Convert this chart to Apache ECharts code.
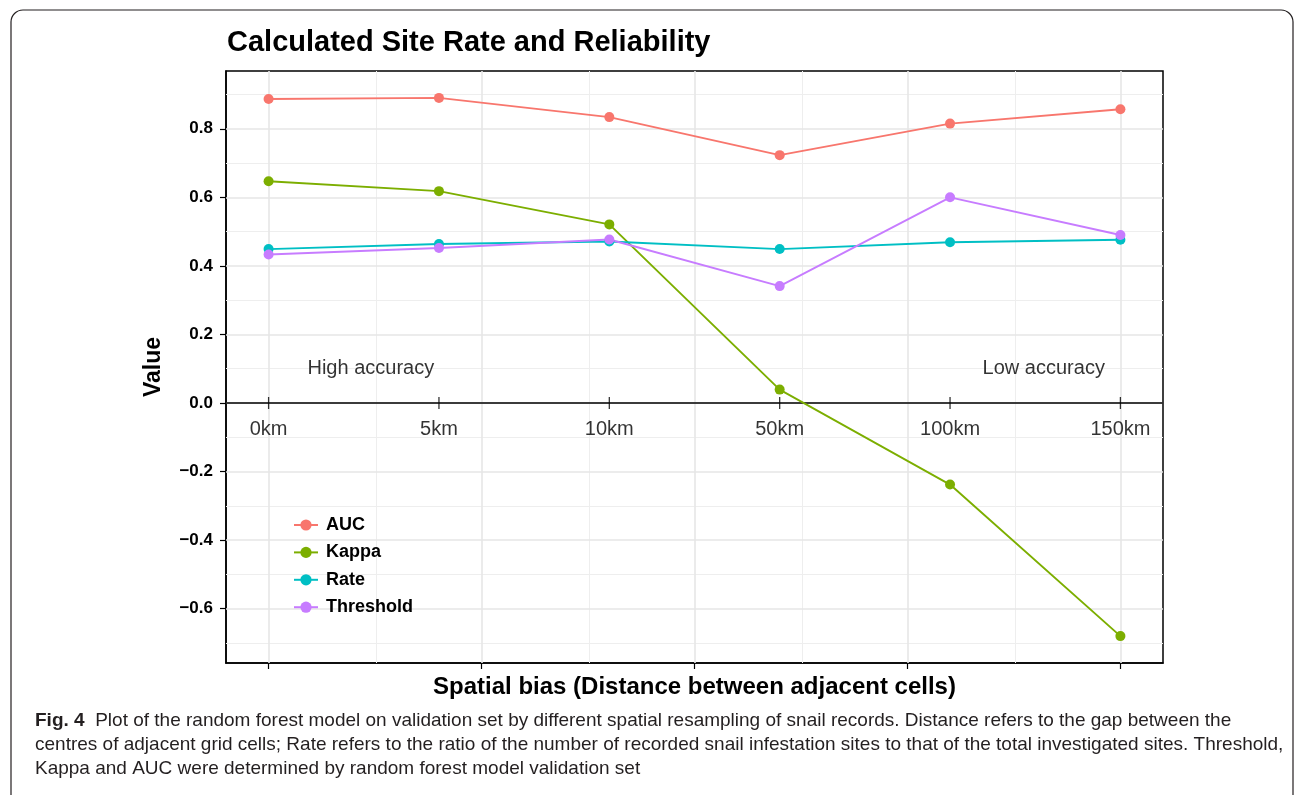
<!DOCTYPE html>
<html>
<head>
<meta charset="utf-8">
<script src="https://cdn.jsdelivr.net/npm/echarts@6/dist/echarts.min.js"></script>
<style>
html,body{margin:0;padding:0;background:#fff;}
#c{width:1295px;height:795px;}
</style>
</head>
<body>
<div id="c"></div>
<script>
// ---- data ----
const categories = ['0km', '5km', '10km', '50km', '100km', '150km'];
const xPositions = [0, 1, 2, 3, 4, 5];
const auc       = [0.887, 0.890, 0.834, 0.723, 0.815, 0.857];
const kappa     = [0.647, 0.618, 0.521, 0.039, -0.238, -0.680];
const rate      = [0.449, 0.464, 0.471, 0.449, 0.469, 0.476];
const threshold = [0.433, 0.452, 0.477, 0.341, 0.600, 0.490];
const yTicks = [-0.6, -0.4, -0.2, 0.0, 0.2, 0.4, 0.6, 0.8];
const yMinor = [-0.7, -0.5, -0.3, -0.1, 0.1, 0.3, 0.5, 0.7, 0.9];
const xMajor = [0, 1.25, 2.5, 3.75, 5];
const xMinor = [0.625, 1.875, 3.125, 4.375];
const annotations = [[0.6, 0.1, 'High accuracy'], [4.55, 0.1, 'Low accuracy']];
const seriesNames = ['AUC', 'Kappa', 'Rate', 'Threshold'];
const seriesColors = ['#F8766D', '#7CAE00', '#00BFC4', '#C77CFF'];
const seriesValues = [auc, kappa, rate, threshold];

const chart = echarts.init(document.getElementById('c'), null, {renderer: 'canvas'});

const X_MIN = -0.25, X_MAX = 5.25, Y_MIN = -0.7585, Y_MAX = 0.9685;
const MAJOR = {color: '#e6e6e6', width: 1.6, type: 'solid'};
const MINOR = {color: '#eeeeee', width: 1.0, type: 'solid'};

const gridLines = []
  .concat(xMinor.map(v => ({xAxis: v, lineStyle: MINOR})))
  .concat(yMinor.map(v => ({yAxis: v, lineStyle: MINOR})))
  .concat(xMajor.map(v => ({xAxis: v, lineStyle: MAJOR})))
  .concat(yTicks.map(v => ({yAxis: v, lineStyle: MAJOR})));

const fmtY = v => (v < 0 ? '\u2212' : '') + Math.abs(v).toFixed(1);

const dataSeries = seriesNames.map((name, i) => ({
  name: name,
  type: 'line',
  data: xPositions.map((x, j) => [x, seriesValues[i][j]]),
  symbol: 'circle',
  symbolSize: 10,
  showSymbol: true,
  itemStyle: {color: seriesColors[i]},
  lineStyle: {color: seriesColors[i], width: 1.9},
  z: 4,
  animation: false
}));

const captionText =
  '{b|Fig. 4}  Plot of the random forest model on validation set by different spatial resampling of snail records. Distance refers to the gap between the\n' +
  'centres of adjacent grid cells; Rate refers to the ratio of the number of recorded snail infestation sites to that of the total investigated sites. Threshold,\n' +
  'Kappa and AUC were determined by random forest model validation set';

const option = {
  animation: false,
  backgroundColor: '#ffffff',
  title: {
    text: 'Calculated Site Rate and Reliability',
    left: 222, top: 23,
    textStyle: {fontFamily: 'Liberation Sans', fontWeight: 'bold', fontSize: 29, color: '#000'}
  },
  grid: {
    left: 226, top: 71, right: 132, bottom: 132,
    show: true, borderColor: '#000', borderWidth: 1.5, backgroundColor: 'transparent'
  },
  legend: {
    data: seriesNames,
    orient: 'vertical',
    left: 288, top: 511,
    z: 6,
    itemWidth: 24, itemHeight: 14, itemGap: 9.4,
    textStyle: {fontFamily: 'Liberation Sans', fontWeight: 'bold', fontSize: 18, color: '#000', padding: [0, 0, 0, 3]}
  },
  xAxis: {
    type: 'value', min: X_MIN, max: X_MAX, position: 'bottom',
    axisLine: {show: true, onZero: false, lineStyle: {color: '#000', width: 1.5}},
    axisTick: {show: true, customValues: xMajor, length: 6, lineStyle: {color: '#000', width: 1.2}},
    axisLabel: {show: false},
    splitLine: {show: false},
    name: 'Spatial bias (Distance between adjacent cells)',
    nameLocation: 'middle', nameGap: 12,
    nameTextStyle: {fontFamily: 'Liberation Sans', fontWeight: 'bold', fontSize: 24, color: '#000', verticalAlign: 'top'}
  },
  yAxis: {
    type: 'value', min: Y_MIN, max: Y_MAX,
    axisLine: {show: true, onZero: false, lineStyle: {color: '#000', width: 1.5}},
    axisTick: {show: true, customValues: yTicks, length: 6, lineStyle: {color: '#000', width: 1.2}},
    axisLabel: {show: true, customValues: yTicks, formatter: fmtY, margin: 13,
      fontFamily: 'Liberation Sans', fontWeight: 'bold', fontSize: 17, color: '#000'},
    splitLine: {show: false},
    name: 'Value', nameLocation: 'middle', nameGap: 61,
    nameTextStyle: {fontFamily: 'Liberation Sans', fontWeight: 'bold', fontSize: 23, color: '#000'}
  },
  series: [
    {
      name: '_grid', type: 'line', data: [], z: 1,
      markLine: {silent: true, z: 1, symbol: ['none', 'none'], label: {show: false}, animation: false, data: gridLines}
    },
    {
      name: '_zero', type: 'scatter', z: 3, silent: true,
      data: xPositions.map((x, j) => [x, 0, categories[j]]),
      symbol: 'rect', symbolSize: [1.3, 12],
      itemStyle: {color: '#000'},
      label: {show: true, position: 'bottom', distance: 10, formatter: p => p.value[2],
        fontFamily: 'Liberation Sans', fontSize: 20, color: '#000', textBorderWidth: 0},
      markLine: {silent: true, z: 2, symbol: ['none', 'none'], label: {show: false}, animation: false,
        data: [{yAxis: 0, lineStyle: {color: '#000', width: 1.5, type: 'solid'}}]}
    },
    {
      name: '_annot', type: 'scatter', z: 3, silent: true,
      data: annotations, symbolSize: 0,
      itemStyle: {color: 'transparent'},
      label: {show: true, position: 'inside', formatter: p => p.value[2],
        fontFamily: 'Liberation Sans', fontSize: 20, color: '#000',
        textBorderWidth: 0, textBorderColor: 'transparent'}
    }
  ].concat(dataSeries),
  graphic: [
    {
      type: 'rect', silent: true, z: 10,
      shape: {x: 11, y: 10, width: 1282, height: 830, r: 12},
      style: {fill: 'none', stroke: '#231f20', lineWidth: 1.2}
    },
    {
      type: 'text', left: 35, top: 709, z: 10,
      style: {
        text: captionText,
        fontFamily: 'Liberation Sans', fontSize: 19, lineHeight: 24, fill: '#231f20',
        rich: {b: {fontFamily: 'Liberation Sans', fontWeight: 'bold', fontSize: 19, lineHeight: 24, fill: '#231f20'}}
      }
    }
  ]
};
chart.setOption(option);
</script>
</body>
</html>
